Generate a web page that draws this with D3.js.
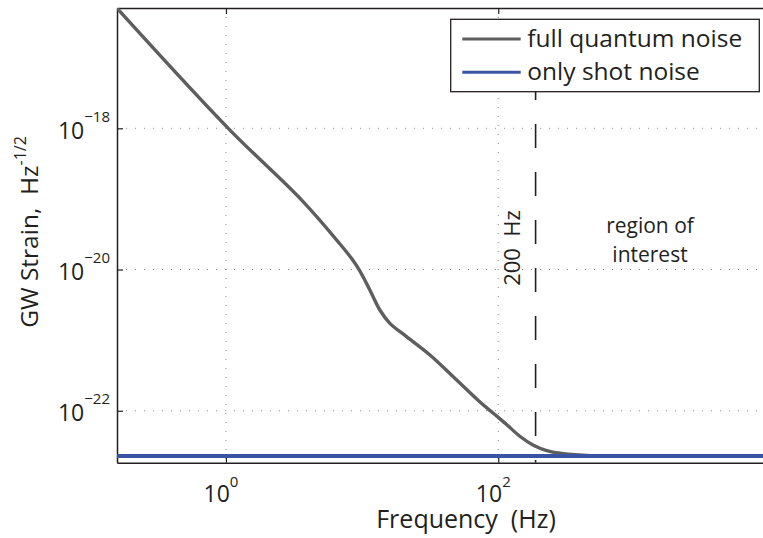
<!DOCTYPE html>
<html><head><meta charset="utf-8">
<script src="https://cdn.jsdelivr.net/npm/d3@7"></script>
<style>
body{margin:0;background:#fff}
svg{display:block}
text{font-family:"Open Sans",sans-serif;fill:#231f20;white-space:pre}
</style>
</head><body>
<svg id="c" width="763" height="538"></svg>
<script>
// ---- data ----
const freqQuantum = [0.158, 1.04, 3.60, 6.88, 8.38, 9.64, 11.4, 13.5, 16.0, 21.2, 31.5, 46.7, 73.4, 91.9, 115, 144, 181, 227, 284, 446, 1300, 10000];
const strainQuantum = [5.06e-17, 1e-18, 9.6e-20, 2.3e-20, 1.43e-20, 9.5e-21, 5.13e-21, 2.67e-21, 1.73e-21, 1.12e-21, 6.15e-22, 3.03e-22, 1.33e-22, 9.2e-23, 6.4e-23, 4.35e-23, 3.25e-23, 2.73e-23, 2.5e-23, 2.33e-23, 2.28e-23, 2.28e-23];
const freqShot = [0.158, 10000];
const strainShot = [2.28e-23, 2.28e-23];
const xTickValues = [1, 100, 10000];
const xLabelValues = [1, 100];
const xTickExps = ["0", "2"];
const yTickValues = [1e-18, 1e-20, 1e-22];
const yTickExps = ["\u221218", "\u221220", "\u221222"];
const seriesNames = ["full quantum noise", "only shot noise"];
const seriesColors = ["#5e5e5e", "#3a54a4"];
const markerFreq = 188;
const markerLabel = "200  Hz";
const regionLabel = ["region of", "interest"];

// ---- layout ----
const svg = d3.select("#c");
const L = 117, T = 8, B = 462.7, R = 770.6;
const x = d3.scaleLog().domain([Math.pow(10, -0.8), 1e4]).range([L, R]);
const y = d3.scaleLog().domain([Math.pow(10, -22.736), Math.pow(10, -16.296)]).range([B, T]);

svg.append("defs").append("clipPath").attr("id", "clip")
  .append("rect").attr("x", L).attr("y", T).attr("width", R - L).attr("height", B - T);

// grid
const grid = svg.append("g").attr("stroke", "#8c8c8c").attr("stroke-width", 1).attr("stroke-dasharray", "1,8");
grid.selectAll("line.v").data(xTickValues).join("line").attr("class", "v")
  .attr("x1", d => x(d)).attr("x2", d => x(d)).attr("y1", T).attr("y2", B);
grid.selectAll("line.h").data(yTickValues).join("line").attr("class", "h")
  .attr("x1", L).attr("x2", R).attr("y1", d => y(d)).attr("y2", d => y(d));

// axes (ticks inward)
const ax = svg.append("g");
ax.append("g").attr("transform", `translate(0,${B})`)
  .call(d3.axisBottom(x).tickValues(xTickValues).tickSizeInner(-6).tickSizeOuter(0).tickFormat(""));
ax.append("g").attr("transform", `translate(0,${T})`)
  .call(d3.axisTop(x).tickValues(xTickValues).tickSizeInner(-6).tickSizeOuter(0).tickFormat(""));
ax.append("g").attr("transform", `translate(${L},0)`)
  .call(d3.axisLeft(y).tickValues(yTickValues).tickSizeInner(-6).tickSizeOuter(0).tickFormat(""));
ax.selectAll(".domain").attr("stroke", "#231f20").attr("stroke-width", 1.5);
ax.selectAll(".tick line").attr("stroke", "#231f20").attr("stroke-width", 1.2);

// tick labels
const xl = svg.append("g");
xLabelValues.forEach((v, i) => {
  const t = xl.append("text").attr("x", x(v) - 5).attr("y", 502).attr("text-anchor", "middle").attr("font-size", 23);
  t.append("tspan").text("10");
  t.append("tspan").attr("font-size", 15).attr("dy", -15).text(xTickExps[i]);
});
yTickValues.forEach((v, i) => {
  const t = xl.append("text").attr("x", 110).attr("y", y(v) + 10.5).attr("text-anchor", "end").attr("font-size", 23);
  t.append("tspan").text("10");
  t.append("tspan").attr("font-size", 15).attr("dy", -17).text(yTickExps[i]);
});

// axis titles
svg.append("text").attr("x", 466).attr("y", 528).attr("text-anchor", "middle").attr("font-size", 25)
  .text("Frequency  (Hz)");
const yt = svg.append("text").attr("transform", "translate(38,232) rotate(-90)").attr("text-anchor", "middle").attr("font-size", 24.5);
yt.append("tspan").text("GW Strain,  Hz");
yt.append("tspan").attr("font-size", 16).attr("dy", -12).text("-1/2");

// series
const plot = svg.append("g").attr("clip-path", "url(#clip)");
const line = d3.line().x(d => x(d[0])).y(d => y(d[1])).curve(d3.curveCatmullRom.alpha(0.5));
plot.append("path").datum(freqQuantum.map((f, i) => [f, strainQuantum[i]]))
  .attr("d", line).attr("fill", "none").attr("stroke", seriesColors[0]).attr("stroke-width", 3.4);
plot.append("path").datum(freqShot.map((f, i) => [f, strainShot[i]]))
  .attr("d", line).attr("fill", "none").attr("stroke", seriesColors[1]).attr("stroke-width", 4);

// marker line
plot.append("line").attr("x1", x(markerFreq)).attr("x2", x(markerFreq)).attr("y1", T).attr("y2", B)
  .attr("stroke", "#231f20").attr("stroke-width", 1.6).attr("stroke-dasharray", "24,24").attr("stroke-dashoffset", 28);
svg.append("text").attr("transform", `translate(${x(markerFreq) - 16},248) rotate(-90)`)
  .attr("text-anchor", "middle").attr("font-size", 22).text(markerLabel);
regionLabel.forEach((s, i) => {
  svg.append("text").attr("x", 650).attr("y", 233 + i * 28.5).attr("text-anchor", "middle").attr("font-size", 21).text(s);
});

// legend
const lg = svg.append("g");
lg.append("rect").attr("x", 450.7).attr("y", 19.3).attr("width", 308.6).attr("height", 72.4)
  .attr("fill", "#fff").attr("stroke", "#231f20").attr("stroke-width", 1.3);
seriesNames.forEach((n, i) => {
  const ly = 39 + i * 33.3;
  lg.append("line").attr("x1", 462.3).attr("x2", 520.7).attr("y1", ly).attr("y2", ly)
    .attr("stroke", seriesColors[i]).attr("stroke-width", 3);
  lg.append("text").attr("x", 527.3).attr("y", ly + 8).attr("font-size", 24.5).text(n);
});
</script>
</body></html>
